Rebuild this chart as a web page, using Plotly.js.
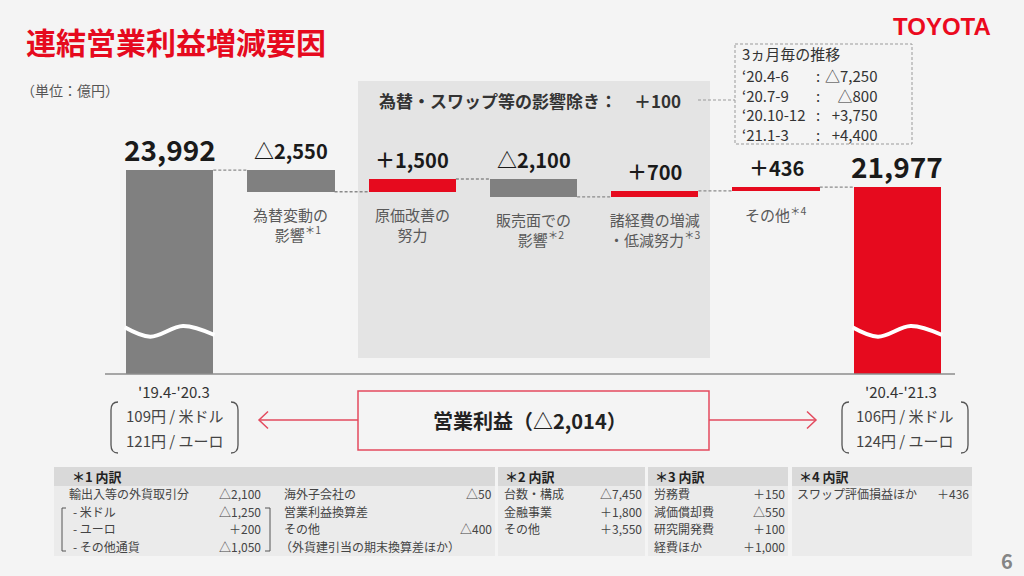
<!DOCTYPE html>
<html><head><meta charset="utf-8">
<script src="https://cdn.plot.ly/plotly-3.0.1.min.js"></script>
<style>html,body{margin:0;padding:0;background:#f4f4f4;} #chart{width:1024px;height:576px;}</style>
</head><body><div id="chart"></div>
<script>
// ---------- data ----------
const categories = ["'19.4-'20.3", "為替変動の影響", "原価改善の努力", "販売面での影響", "諸経費の増減・低減努力", "その他", "'20.4-'21.3"];
const values = [23992, -2550, 1500, -2100, 700, 436, 21977];
const measures = ["absolute", "relative", "relative", "relative", "relative", "relative", "total"];
const valueLabels = ["23,992", "△2,550", "＋1,500", "△2,100", "＋700", "＋436", "21,977"];
const categoryLabels = ["", "為替変動の<br>　影響<sup>＊1</sup>", "原価改善の<br>努力", "販売面での<br>　影響<sup>＊2</sup>", "諸経費の増減<br>・低減努力<sup>＊3</sup>", "その他<sup>＊4</sup>", ""];
const periodLabels = ["'19.4-'20.3", "'20.4-'21.3"];
const usdRates = ["109円 / 米ドル", "106円 / 米ドル"];
const eurRates = ["121円 / ユーロ", "124円 / ユーロ"];
const excludingText = "為替・スワップ等の影響除き：　＋100";
const quarterTitle = "3ヵ月毎の推移";
const quarterLabels = ["‘20.4-6", "‘20.7-9", "‘20.10-12", "‘21.1-3"];
const quarterValues = ["△7,250", "△800", "+3,750", "+4,400"];
const totalChangeText = "営業利益（△2,014）";
const breakdownTitles = ["＊1 内訳", "＊2 内訳", "＊3 内訳", "＊4 内訳"];
const fxItems = ["輸出入等の外貨取引分", "- 米ドル", "- ユーロ", "- その他通貨"];
const fxValues = ["△2,100", "△1,250", "＋200", "△1,050"];
const fxOtherItems = ["海外子会社の", "営業利益換算差", "その他", "（外貨建引当の期末換算差ほか）"];
const fxOtherValues = ["△50", "", "△400", ""];
const salesItems = ["台数・構成", "金融事業", "その他"];
const salesValues = ["△7,450", "＋1,800", "＋3,550"];
const costItems = ["労務費", "減価償却費", "研究開発費", "経費ほか"];
const costValues = ["＋150", "△550", "＋100", "＋1,000"];
const otherItems = ["スワップ評価損益ほか"];
const otherValues = ["＋436"];
// decorative break-mark (wave) offsets relative to bar centre
const waveDx = [-0.37, -0.16, 0.11, 0.37];
const waveY = [5494, 4388, 5647, 4588];

// ---------- styles ----------
const JP = '"Noto Sans CJK JP", "Noto Sans", sans-serif';
const RED = '#e60a1e';
const barColors = ["#808080", "#808080", RED, "#808080", RED, RED, RED];
const BW = 0.72;

// ---------- waterfall geometry from data ----------
const xs = categories.map((c, i) => i);
const bases = [], tops = [], bottoms = [], levels = [];
let running = 0;
values.forEach((v, i) => {
  let base;
  if (measures[i] === 'relative') { base = running; running += v; }
  else { base = 0; running = v; }
  bases.push(base);
  tops.push(Math.max(base, base + v));
  bottoms.push(Math.min(base, base + v));
  levels.push(running);
});

const traces = [];
traces.push({
  type: 'bar', x: xs, y: values, base: bases, width: BW,
  marker: { color: barColors, line: { width: 0 } }, hoverinfo: 'skip'
});
const cx = [], cy = [];
for (let i = 0; i < values.length - 1; i++) {
  cx.push(i + BW / 2, i + 1 - BW / 2, null);
  cy.push(levels[i], levels[i], null);
}
traces.push({ type: 'scatter', mode: 'lines', x: cx, y: cy, line: { color: '#8a8a8a', width: 1.3, dash: '3px,2px' }, hoverinfo: 'skip' });
[0, values.length - 1].forEach(i => {
  traces.push({ type: 'scatter', mode: 'lines', x: waveDx.map(d => i + d), y: waveY,
    line: { color: '#ffffff', width: 4, shape: 'spline' }, hoverinfo: 'skip' });
});

// ---------- pixel helpers for decorations ----------
const L = 109, B = 374, W = 849, H = 221;
const fx = X => (X - L) / W, fy = Y => (B - Y) / H;
function pshape(cmds, line, fill, layer) {
  const d = cmds.map(c => c[0] + (c.length > 1 ? c.slice(1).map((v, k) => k % 2 === 0 ? (v - L) : (B - v)).join(',') : '')).join(' ');
  return { type: 'path', xref: 'paper', yref: 'paper', xsizemode: 'pixel', ysizemode: 'pixel', xanchor: 0, yanchor: 0,
    path: d, line: line || { width: 0 }, fillcolor: fill || 'rgba(0,0,0,0)', layer: layer || 'above' };
}
function rect(X0, Y0, X1, Y1, fill, line, layer) {
  return { type: 'rect', xref: 'paper', yref: 'paper', xsizemode: 'pixel', ysizemode: 'pixel', xanchor: 0, yanchor: 0,
    x0: X0 - L, x1: X1 - L, y0: B - Y0, y1: B - Y1, fillcolor: fill || 'rgba(0,0,0,0)', line: line || { width: 0 }, layer: layer || 'below' };
}
function ann(text, X, Y, size, color, opts) {
  return Object.assign({ text: text, xref: 'paper', yref: 'paper', x: fx(X), y: fy(Y), xanchor: 'center', yanchor: 'middle',
    showarrow: false, font: { family: JP, size: size, color: color } }, opts || {});
}

const shapes = [];
const annotations = [];

shapes.push(rect(358, 81, 710, 358, '#e4e4e4', null, 'below'));
shapes.push(pshape([['M', 105, 374], ['L', 955, 374]], { color: '#8c8c8c', width: 1.5 }));
shapes.push(pshape([['M', 698, 100], ['L', 735, 100]], { color: '#9a9a9a', width: 1, dash: '3px,2px' }));
shapes.push(rect(735, 44, 912, 144, 'rgba(0,0,0,0)', { color: '#9a9a9a', width: 1, dash: '3px,2px' }, 'above'));
function roundBrackets(xl, xr) {
  shapes.push(pshape([['M', xl + 7, 402], ['Q', xl, 402, xl, 410], ['L', xl, 445], ['Q', xl, 453, xl + 7, 453]], { color: '#555', width: 1.3 }));
  shapes.push(pshape([['M', xr - 7, 402], ['Q', xr, 402, xr, 410], ['L', xr, 445], ['Q', xr, 453, xr - 7, 453]], { color: '#555', width: 1.3 }));
}
roundBrackets(111, 238);
roundBrackets(842, 968);
const ARC = '#e34a5e';
shapes.push(rect(358, 391, 709, 450, 'rgba(0,0,0,0)', { color: ARC, width: 1.5 }, 'above'));
shapes.push(pshape([['M', 259, 420], ['L', 358, 420]], { color: ARC, width: 1.5 }));
shapes.push(pshape([['M', 268, 411.5], ['L', 259, 420], ['L', 268, 428.5]], { color: ARC, width: 1.5 }));
shapes.push(pshape([['M', 709, 420], ['L', 816, 420]], { color: ARC, width: 1.5 }));
shapes.push(pshape([['M', 807, 411.5], ['L', 816, 420], ['L', 807, 428.5]], { color: ARC, width: 1.5 }));
const tables = [[54, 495], [498, 645], [648, 788], [792, 972]];
tables.forEach(t => {
  shapes.push(rect(t[0], 486, t[1], 556, '#ebebeb', null, 'below'));
  shapes.push(rect(t[0], 467, t[1], 486, '#d9d9d9', null, 'below'));
});
shapes.push(pshape([['M', 66, 508], ['L', 62, 508], ['L', 62, 551], ['L', 66, 551]], { color: '#555', width: 1 }));
shapes.push(pshape([['M', 265, 508], ['L', 270, 508], ['L', 270, 551], ['L', 265, 551]], { color: '#555', width: 1 }));

// value labels above bars, category labels below
values.forEach((v, i) => {
  const big = measures[i] !== 'relative';
  annotations.push({ text: '<b>' + valueLabels[i] + '</b>', xref: 'x', yref: 'y', x: i, y: tops[i], xanchor: 'center', yanchor: 'middle',
    yshift: big ? 21 : 19.5, showarrow: false, font: { family: JP, size: big ? 28 : 20, color: '#1a1a1a' } });
  if (categoryLabels[i]) {
    annotations.push({ text: categoryLabels[i], xref: 'x', yref: 'y', x: i, y: bottoms[i], xanchor: 'center', yanchor: 'top',
      yshift: -10, showarrow: false, font: { family: JP, size: 15, color: '#595959' } });
  }
});

const blockX = [175, 905];
periodLabels.forEach((p, k) => {
  annotations.push(ann(p, blockX[k] - (k ? 4 : 1), 391, 15, '#333'));
  annotations.push(ann(usdRates[k], blockX[k], 415, 15, '#444'));
  annotations.push(ann(eurRates[k], blockX[k], 440, 15, '#444'));
});
annotations.push(ann('<b>' + totalChangeText + '</b>', 530, 420, 20, '#222'));
annotations.push(ann('<b>' + excludingText + '</b>', 530, 100, 17, '#333'));

// quarter box: title + three multi-line columns
const QF = 15;
const qMid = 75.5 + 1.5 * 1.3 * QF;
annotations.push(ann(quarterTitle, 740, 53.5, QF, '#333', { xanchor: 'left' }));
annotations.push(ann(quarterLabels.join('<br>'), 740, qMid, QF, '#333', { xanchor: 'left', align: 'left' }));
annotations.push(ann(quarterLabels.map(() => ':').join('<br>'), 818, qMid, QF, '#333'));
annotations.push(ann(quarterValues.join('<br>'), 879, qMid, QF, '#333', { xanchor: 'right', align: 'right' }));

// title, logo, unit, page
annotations.push(ann('（単位：億円）', 19, 90, 14, '#555', { xanchor: 'left' }));
annotations.push({ text: '<b>TOYOTA</b>', xref: 'paper', yref: 'paper', x: fx(993), y: fy(26.5), xanchor: 'right', yanchor: 'middle', showarrow: false,
  font: { family: '"Liberation Sans", Arial, sans-serif', size: 24, color: '#eb0a1e' } });
annotations.push(ann('<b>6</b>', 1007, 560, 20, '#858585'));

// tables text
const rowY = [493.5, 511, 528.5, 546];
const titleX = [70, 503, 653, 797];
breakdownTitles.forEach((t, k) => annotations.push(ann('<b>' + t + '</b>', titleX[k], 476.5, 13, '#222', { xanchor: 'left' })));
function addCol(items, vals, xl, xr, xoff) {
  items.forEach((it, r) => {
    annotations.push(ann(it, xl + ((xoff && xoff[r]) || 0), rowY[r], 12, '#444', { xanchor: 'left' }));
    if (vals[r]) annotations.push(ann(vals[r], xr, rowY[r], 12, '#444', { xanchor: 'right' }));
  });
}
addCol(fxItems, fxValues, 67, 263, [0, 4, 4, 4]);
addCol(fxOtherItems, fxOtherValues, 282, 494, [0, 0, 0, -4]);
addCol(salesItems, salesValues, 502, 644);
addCol(costItems, costValues, 652, 787);
addCol(otherItems, otherValues, 795, 971);

const layout = {
  width: 1024, height: 576,
  margin: { l: L, r: 1024 - L - W, t: B - H, b: 576 - B, pad: 0 },
  paper_bgcolor: '#f4f4f4', plot_bgcolor: 'rgba(0,0,0,0)',
  showlegend: false,
  title: { text: '<b>連結営業利益増減要因</b>', x: 26 / 1024, xanchor: 'left', xref: 'container', y: 1 - 43.5 / 576, yanchor: 'middle', yref: 'container',
    font: { family: JP, size: 30, color: RED } },
  xaxis: { range: [-0.5, 6.5], showgrid: false, zeroline: false, showticklabels: false, showline: false, fixedrange: true },
  yaxis: { range: [0, 26000], showgrid: false, zeroline: false, showticklabels: false, showline: false, fixedrange: true },
  bargap: 0,
  shapes: shapes, annotations: annotations
};
Plotly.newPlot('chart', traces, layout, { staticPlot: true, displayModeBar: false });
</script></body></html>
